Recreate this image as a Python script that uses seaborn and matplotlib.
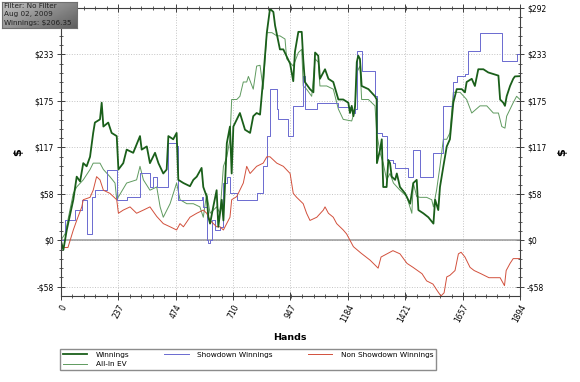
import numpy as np
import pandas as pd
import seaborn as sns
import matplotlib.pyplot as plt
from matplotlib.ticker import FixedLocator, AutoMinorLocator

# hands / values
win_hands = [0, 11, 25, 52, 66, 80, 93, 107, 121, 134, 141, 162, 169, 176, 196, 210, 231, 238, 258, 272,
             299, 327, 334, 355, 368, 389, 403, 423, 437, 444, 464, 478, 485, 506, 533, 547, 561, 581, 588, 602,
             609, 616, 629, 643, 650, 664, 671, 685, 698, 705, 712, 739, 760, 781, 794, 808, 822, 835, 850, 863,
             877, 884, 904, 918, 946, 959, 966, 980, 994, 1000, 1007, 1028, 1042, 1049, 1062, 1069, 1090, 1104, 1124, 1145,
             1165, 1186, 1193, 1200, 1207, 1214, 1221, 1227, 1234, 1241, 1269, 1296, 1303, 1304, 1317, 1324, 1330, 1344, 1351, 1358,
             1365, 1379, 1386, 1399, 1420, 1441, 1454, 1468, 1475, 1495, 1516, 1537, 1544, 1557, 1564, 1578, 1592, 1605, 1619, 1633,
             1654, 1667, 1674, 1695, 1708, 1722, 1743, 1763, 1784, 1805, 1812, 1825, 1832, 1839, 1853, 1866, 1873, 1894]
win_vals = [0, -12, 13, 51, 80, 74, 97, 93, 105, 135, 148, 152, 173, 143, 148, 135, 131, 89, 97, 114,
            110, 131, 114, 118, 97, 110, 97, 84, 89, 131, 127, 135, 76, 72, 68, 76, 80, 91, 67, 55,
            29, 21, 42, 63, 17, 51, 25, 122, 143, 84, 143, 160, 139, 135, 156, 160, 158, 203, 261, 291,
            287, 270, 240, 240, 222, 200, 237, 262, 262, 228, 199, 190, 186, 236, 232, 203, 215, 203, 199, 177,
            177, 173, 160, 169, 156, 169, 224, 232, 228, 194, 190, 181, 177, 97, 114, 127, 67, 67, 101, 97,
            80, 76, 84, 67, 59, 46, 72, 76, 38, 34, 29, 21, 51, 38, 67, 93, 118, 127, 173, 190,
            190, 186, 199, 203, 194, 215, 215, 211, 209, 207, 177, 173, 169, 181, 194, 203, 206, 206.35]

ev_hands = [0, 18, 52, 66, 93, 121, 134, 162, 176, 203, 224, 231, 272, 313, 327, 341, 368, 396, 410, 423,
            451, 478, 492, 520, 547, 574, 588, 602, 616, 643, 657, 671, 685, 698, 705, 726, 739, 753, 767, 774,
            794, 808, 822, 835, 850, 871, 891, 904, 925, 932, 959, 980, 994, 1000, 1014, 1035, 1049, 1062, 1069, 1097,
            1124, 1145, 1165, 1200, 1214, 1221, 1234, 1241, 1269, 1296, 1303, 1317, 1330, 1344, 1358, 1372, 1399, 1427, 1448, 1454,
            1468, 1482, 1509, 1530, 1537, 1550, 1564, 1578, 1592, 1605, 1619, 1647, 1674, 1695, 1729, 1757, 1784, 1805, 1819, 1832,
            1839, 1866, 1880, 1894]
ev_vals = [0, 8, 59, 67, 76, 89, 97, 97, 89, 80, 72, 51, 72, 76, 93, 76, 63, 67, 42, 29,
           46, 72, 51, 46, 46, 42, 29, 59, 34, 42, 34, 93, 105, 127, 177, 177, 181, 199, 199, 206,
           190, 219, 220, 190, 261, 261, 257, 257, 253, 228, 219, 236, 240, 194, 190, 181, 228, 224, 194, 194,
           190, 165, 152, 150, 165, 211, 219, 177, 177, 169, 135, 110, 97, 76, 84, 72, 63, 55, 34, 72,
           55, 54, 54, 51, 42, 63, 93, 127, 127, 135, 186, 186, 177, 160, 169, 169, 160, 160, 143, 141,
           156, 173, 181, 177]

sd_hands = [0, 4, 18, 52, 59, 87, 100, 107, 121, 128, 141, 190, 224, 231, 265, 272, 327, 361, 368, 382,
            396, 444, 478, 485, 581, 588, 602, 609, 616, 623, 636, 657, 671, 685, 698, 712, 726, 781, 808, 835,
            850, 863, 877, 891, 897, 932, 938, 946, 959, 973, 1000, 1007, 1042, 1056, 1138, 1145, 1193, 1200, 1214, 1221,
            1234, 1241, 1289, 1296, 1303, 1324, 1344, 1372, 1379, 1427, 1434, 1448, 1454, 1475, 1482, 1530, 1537, 1571, 1578, 1612,
            1619, 1633, 1667, 1681, 1722, 1729, 1812, 1819, 1873, 1880, 1894]
sd_vals = [0, 0, 25, 25, 38, 51, 51, 8, 8, 54, 63, 89, 89, 51, 51, 55, 84, 84, 67, 80,
           67, 122, 118, 51, 55, 42, 0, -4, 0, 25, 13, 17, 72, 80, 59, 59, 51, 51, 59, 93,
           131, 190, 190, 165, 152, 152, 131, 131, 169, 169, 206, 165, 165, 173, 173, 167, 167, 160, 165, 238,
           238, 213, 213, 181, 135, 131, 101, 97, 91, 91, 80, 80, 114, 114, 80, 80, 110, 110, 169, 173,
           199, 206, 209, 238, 238, 261, 261, 225, 225, 234, 234]

nsd_hands = [0, 4, 30, 52, 66, 87, 93, 121, 134, 148, 162, 176, 203, 231, 238, 258, 286, 313, 341, 368,
             396, 423, 451, 478, 492, 506, 533, 561, 588, 602, 616, 643, 657, 671, 698, 705, 726, 753, 767, 781,
             808, 835, 850, 863, 891, 918, 946, 959, 973, 1000, 1014, 1028, 1056, 1083, 1090, 1104, 1124, 1138, 1165, 1179,
             1193, 1207, 1238, 1276, 1309, 1321, 1370, 1399, 1428, 1453, 1490, 1509, 1535, 1552, 1568, 1581, 1592, 1605, 1626, 1640,
             1651, 1667, 1688, 1705, 1733, 1766, 1812, 1830, 1837, 1853, 1866, 1894]
nsd_vals = [0, -9, -9, 13, 25, 42, 51, 54, 63, 80, 76, 63, 59, 51, 34, 38, 42, 34, 38, 42,
            30, 21, 17, 13, 21, 17, 29, 34, 38, 34, 25, 17, 17, 13, 29, 51, 55, 72, 93, 84,
            93, 97, 105, 105, 97, 93, 84, 59, 54, 46, 34, 25, 29, 38, 42, 34, 29, 21, 13, 8,
            0, -8, -16, -25, -35, -21, -13, -17, -29, -34, -42, -51, -55, -63, -70, -66, -46, -44, -38, -17,
            -15, -21, -34, -38, -42, -47, -47, -57, -38, -29, -23, -23]

x_ticks = [0, 237, 474, 710, 947, 1184, 1421, 1657, 1894]
y_ticks = [-58.4, 0, 58.4, 116.8, 175.2, 233.6, 292]
y_labels = ['-$58', '$0', '$58', '$117', '$175', '$233', '$292']

plt.rcParams['font.family'] = 'DejaVu Sans'

fig = plt.figure(figsize=(5.8, 3.82), dpi=100)
ax = fig.add_axes([60.7 / 580, 1 - 296 / 382, (520 - 60.7) / 580, (296 - 8) / 382])

ax.axhline(0, color='#999999', lw=1.1, zorder=1)

common = dict(ax=ax, estimator=None, sort=False)
sns.lineplot(x=ev_hands, y=ev_vals, color='#5f9a5f', lw=0.7, label='All-In EV', **common)
sns.lineplot(x=sd_hands, y=sd_vals, color='#6a6ad0', lw=0.7, drawstyle='steps-post',
             label='Showdown Winnings', **common)
sns.lineplot(x=nsd_hands, y=nsd_vals, color='#d2503c', lw=0.7, label='Non Showdown Winnings', **common)
sns.lineplot(x=win_hands, y=win_vals, color='#1a5f1a', lw=1.3, label='Winnings', **common)

ax.set_xlim(0, 1894)
ax.set_ylim(-70, 292)
ax.xaxis.set_major_locator(FixedLocator(x_ticks))
ax.yaxis.set_major_locator(FixedLocator(y_ticks))
ax.xaxis.set_minor_locator(AutoMinorLocator(5))
ax.yaxis.set_minor_locator(AutoMinorLocator(5))
ax.set_yticklabels(y_labels)
ax.set_xticklabels([str(t) for t in x_ticks], rotation=62, ha='right', rotation_mode='anchor')
ax.grid(True, which='major', ls=':', color='#c4c4c4', lw=0.7)
ax.set_axisbelow(True)

ax.tick_params(which='major', direction='inout', length=6, width=0.7, color='#404040',
               labelsize=5.5, top=True, right=True, labelright=True, pad=2)
ax.tick_params(which='minor', direction='inout', length=3.5, width=0.6, color='#404040',
               top=True, right=True)
# the left $292 label sits under the filter box in the original
ax.yaxis.get_major_ticks()[-1].label1.set_visible(False)
for sp in ax.spines.values():
    sp.set_color('#404040')
    sp.set_linewidth(0.8)

ax.set_xlabel('Hands', fontsize=6.8, fontweight='bold', labelpad=6)
ax.set_ylabel('$', fontsize=8, fontweight='bold', labelpad=8)
fig.text(562 / 580, 1 - 152 / 382, '$', rotation=90, fontsize=8, fontweight='bold',
         ha='center', va='center')

handles, labels = ax.get_legend_handles_labels()
order = [labels.index(k) for k in ['Winnings', 'All-In EV', 'Showdown Winnings', 'Non Showdown Winnings']]
ax.legend([handles[i] for i in order], [labels[i] for i in order], ncol=3,
          loc='upper left', bbox_to_anchor=(60 / 580, 1 - 374 / 382, 376 / 580, 25 / 382),
          bbox_transform=fig.transFigure, mode='expand', fontsize=5.3, frameon=True,
          fancybox=False, edgecolor='#707070', handlelength=3.3, handletextpad=1.2,
          borderaxespad=0, labelspacing=0.45, borderpad=0.35, columnspacing=2)

# filter info box, top left
box = fig.add_axes([2 / 580, 1 - 28 / 382, 75 / 580, 26 / 382])
gx, gy = np.meshgrid(np.linspace(0, 1, 60), np.linspace(0, 1, 20))
box.imshow(0.35 + 0.35 * (gx * 0.6 + gy * 0.4), cmap='Greys', vmin=0, vmax=1, aspect='auto')
box.set_xticks([])
box.set_yticks([])
for sp in box.spines.values():
    sp.set_color('#707070')
    sp.set_linewidth(0.8)
for i, t in enumerate(['Filter: No Filter', 'Aug 02, 2009', 'Winnings: $206.35']):
    box.text(0.03, 0.84 - i * 0.32, t, transform=box.transAxes, fontsize=5.2,
             color='#202020', va='center', ha='left')

fig.savefig('out.png', dpi=100)
